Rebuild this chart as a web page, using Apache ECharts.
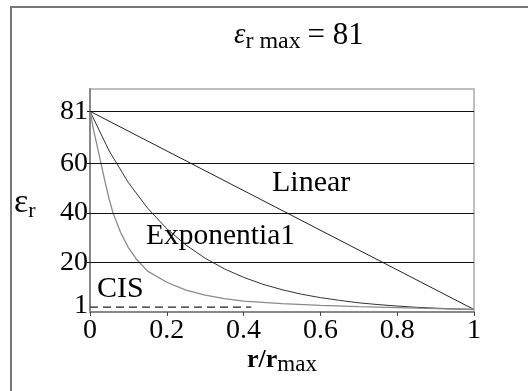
<!DOCTYPE html>
<html>
<head>
<meta charset="utf-8">
<script src="https://cdn.jsdelivr.net/npm/echarts@6/dist/echarts.min.js"></script>
<style>
  html, body { margin: 0; padding: 0; background: #fff; }
  #chart-wrapper { width: 528px; height: 391px; }
</style>
</head>
<body>
<div id="chart-wrapper"></div>
<script>
// values
const epsMax = 81;
const yLabelValues = [2.5, 20, 40, 60, 81];
const gridValues = [20, 40, 60, 81];

const rLinear = [0, 1];
const epsLinear = [81, 1];

const rExp = [0, 0.05, 0.1, 0.15, 0.2, 0.25, 0.3, 0.35, 0.4, 0.45, 0.5,
  0.55, 0.6, 0.65, 0.7, 0.75, 0.8, 0.85, 0.9, 0.95, 1];
const epsExp = [81, 65, 52.2, 41.9, 33.6, 27, 21.7, 17.4, 14, 11.2, 9,
  7.2, 5.8, 4.7, 3.7, 3, 2.4, 1.9, 1.55, 1.25, 1];

const rSteep = [0, 0.01, 0.02, 0.03, 0.04, 0.05, 0.06, 0.08, 0.1, 0.12, 0.15,
  0.2, 0.25, 0.3, 0.35, 0.4, 0.5, 0.6, 0.7, 0.8, 0.9, 1];
const epsSteep = [81, 73, 66, 59, 52, 45.5, 40, 32, 26, 21.5, 16.5,
  12, 8.8, 6.8, 5.4, 4.4, 3.4, 2.7, 2.2, 1.8, 1.4, 1];

const rCis = [0, 0.42];
const epsCis = [2, 2];

const font = "Liberation Serif";

const pairs = (xs, ys) => xs.map((x, i) => [x, ys[i]]);

let chart;

function init_chart() {
  chart = echarts.init(document.getElementById("chart-wrapper"));

  const option = {
    backgroundColor: "#fff",
    animation: false,
    grid: {
      left: 90,
      right: 54,
      top: 89,
      bottom: 79,
      show: true,
      borderColor: "#aaa",
      borderWidth: 1.5,
      outerBoundsMode: "none",
    },
    xAxis: {
      type: "value",
      min: 0,
      max: 1,
      interval: 0.2,
      axisLine: { show: true, lineStyle: { color: "#888", width: 2 } },
      axisTick: { show: true, length: 4, lineStyle: { color: "#444" } },
      splitLine: { show: false },
      axisLabel: {
        color: "#000",
        fontFamily: font,
        fontSize: 28,
        margin: 5,
        formatter: (v) => String(v),
      },
    },
    yAxis: {
      type: "value",
      min: 0,
      max: 90,
      axisLine: { show: true, lineStyle: { color: "#888", width: 2 } },
      axisTick: {
        show: true,
        length: 3,
        customValues: gridValues,
        lineStyle: { color: "#111" },
      },
      splitLine: { show: false },
      axisLabel: {
        color: "#000",
        fontFamily: font,
        fontSize: 28,
        margin: 2,
        customValues: yLabelValues,
        formatter: (v) => (v < 5 ? "1" : String(v)),
      },
    },
    series: [
      {
        name: "Linear",
        type: "line",
        data: pairs(rLinear, epsLinear),
        symbol: "none",
        lineStyle: { color: "#222", width: 1 },
        markLine: {
          silent: true,
          symbol: "none",
          label: { show: false },
          lineStyle: { color: "#111", width: 1, type: "solid" },
          data: gridValues.map((v) => ({ yAxis: v })),
        },
      },
      {
        name: "Exponential",
        type: "line",
        data: pairs(rExp, epsExp),
        symbol: "none",
        lineStyle: { color: "#333", width: 1 },
      },
      {
        name: "Steep",
        type: "line",
        data: pairs(rSteep, epsSteep),
        symbol: "none",
        lineStyle: { color: "#8a8a8a", width: 1.3 },
      },
      {
        name: "CIS",
        type: "line",
        data: pairs(rCis, epsCis),
        symbol: "none",
        lineStyle: { color: "#222", width: 1.2, type: [8, 5] },
      },
    ],
    graphic: [
      {
        type: "rect",
        shape: { x: 11, y: 7, width: 600, height: 500 },
        style: { fill: "none", stroke: "#777", lineWidth: 2 },
        silent: true,
      },
      {
        type: "text",
        left: 234,
        top: 20,
        style: {
          text: "{e|ε}{s|r max}  {n|= " + epsMax + "}",
          rich: {
            e: { fontFamily: font, fontSize: 29, fontStyle: "italic", verticalAlign: "middle", lineHeight: 34 },
            s: { fontFamily: font, fontSize: 24, verticalAlign: "bottom", lineHeight: 36 },
            n: { fontFamily: font, fontSize: 31, verticalAlign: "middle", lineHeight: 34 },
          },
          fill: "#000",
        },
      },
      {
        type: "text",
        left: 14,
        top: 186,
        style: {
          text: "{e|ε}{s|r}",
          rich: {
            e: { fontFamily: font, fontSize: 34, verticalAlign: "middle", lineHeight: 38 },
            s: { fontFamily: font, fontSize: 22, verticalAlign: "bottom", lineHeight: 38 },
          },
          fill: "#000",
        },
      },
      {
        type: "text",
        left: 247,
        top: 347,
        style: {
          text: "{a|r/r}{s|max}",
          rich: {
            a: { fontFamily: font, fontSize: 26, fontWeight: "bold", verticalAlign: "middle", lineHeight: 30 },
            s: { fontFamily: font, fontSize: 23, verticalAlign: "bottom", lineHeight: 32 },
          },
          fill: "#000",
        },
      },
      {
        type: "text",
        left: 272,
        top: 168,
        style: { text: "Linear", fontFamily: font, fontSize: 30, fill: "#000" },
      },
      {
        type: "text",
        left: 146,
        top: 221,
        style: { text: "Exponentia1", fontFamily: font, fontSize: 29.5, fill: "#000" },
      },
      {
        type: "text",
        left: 97,
        top: 274,
        style: { text: "CIS", fontFamily: font, fontSize: 30, fill: "#000" },
      },
    ],
  };
  chart.setOption(option);
}

window.onload = init_chart;
</script>
</body>
</html>
